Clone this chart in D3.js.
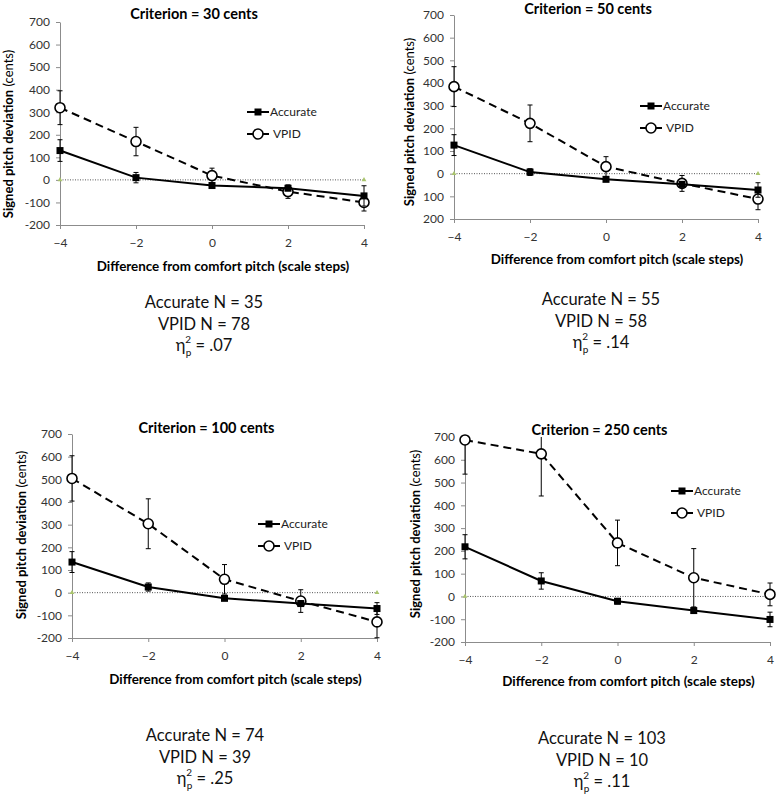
<!DOCTYPE html>
<html>
<head>
<meta charset="utf-8">
<script src="https://cdn.jsdelivr.net/npm/d3@7"></script>
<style>
  body { margin: 0; background: #fff; }
  svg { display: block; font-family: Lato, "Open Sans", sans-serif; }
  .axis path, .axis line { stroke: #8c8c8c; }
  .axis text { fill: #333; font-size: 12px; font-family: Lato, sans-serif; }
</style>
</head>
<body>
<svg id="chart" width="777" height="798"></svg>
<script>
// x positions (scale steps from comfort pitch)
const xSteps = [-4, -2, 0, 2, 4];
const yTicks = [700, 600, 500, 400, 300, 200, 100, 0, -100, -200];
const yTickLabelsStd = ['700', '600', '500', '400', '300', '200', '100', '0', '-100', '-200'];
const yTickLabelsP2 = ['700', '600', '500', '400', '300', '200', '100', '0', '100', '200'];

const panelTitles = ['Criterion = 30 cents', 'Criterion = 50 cents', 'Criterion = 100 cents', 'Criterion = 250 cents'];
const accurateN = [35, 55, 74, 103];
const vpidN = [78, 58, 39, 10];
const etaSq = ['.07', '.14', '.25', '.11'];

// means and error bar half-widths (cents)
const accurateMeans = [
  [130, 10, -25, -37, -71],
  [126, 7, -25, -47, -72],
  [135, 25, -25, -48, -70],
  [218, 68, -21, -62, -101]
];
const accurateErrors = [
  [48, 23, 8, 10, 45],
  [46, 15, 8, 12, 32],
  [46, 18, 8, 12, 26],
  [53, 36, 12, 12, 32]
];
const vpidMeans = [
  [320, 170, 19, -52, -100],
  [384, 222, 31, -43, -112],
  [504, 304, 59, -37, -129],
  [687, 626, 235, 82, 9]
];
const vpidErrors = [
  [75, 63, 33, 30, 38],
  [88, 81, 44, 35, 47],
  [100, 110, 65, 50, 70],
  [150, 185, 100, 128, 50]
];

// pixel layout of each panel (axis box, title spots, legend, footer)
const layout = [
  { x0: 60, x1: 364, yTop: 22, yBot: 225, titleY: 19, yLabX: 9, yLabY: 134, xLabY: 271, legX: 247, legY: 112, footX: 204, footY: 308, labels: yTickLabelsStd },
  { x0: 454, x1: 758, yTop: 15, yBot: 219, titleY: 14, yLabX: 410, yLabY: 122, xLabY: 264, legX: 640, legY: 106, footX: 601, footY: 305, labels: yTickLabelsP2 },
  { x0: 72, x1: 377, yTop: 434, yBot: 638, titleY: 433, yLabX: 22, yLabY: 535, xLabY: 684, legX: 258, legY: 524, footX: 205, footY: 741, labels: yTickLabelsStd },
  { x0: 465, x1: 770, yTop: 437, yBot: 642, titleY: 435, yLabX: 416, yLabY: 534, xLabY: 686, legX: 671, legY: 491, footX: 602, footY: 744, labels: yTickLabelsStd }
];

const svg = d3.select('#chart');

function drawPanel(i) {
  const L = layout[i];
  const g = svg.append('g');
  const x = d3.scaleLinear().domain([-4, 4]).range([L.x0, L.x1]);
  const y = d3.scaleLinear().domain([-200, 700]).range([L.yBot, L.yTop]);
  const clampY = v => y(Math.max(-200, Math.min(700, v)));

  g.append('g').attr('class', 'axis')
    .attr('transform', `translate(0,${L.yBot})`)
    .call(d3.axisBottom(x).tickValues(xSteps).tickSize(4).tickSizeOuter(0).tickPadding(9))
    .selectAll('text').attr('dy', '0.71em');
  g.append('g').attr('class', 'axis')
    .attr('transform', `translate(${L.x0},0)`)
    .call(d3.axisLeft(y).tickValues(yTicks).tickSize(4).tickSizeOuter(0).tickPadding(6)
      .tickFormat((d, k) => L.labels[k]));

  // zero reference line
  g.append('line')
    .attr('x1', x(-4)).attr('x2', x(4)).attr('y1', y(0)).attr('y2', y(0))
    .attr('stroke', '#555').attr('stroke-width', 1).attr('stroke-dasharray', '1,1.5');
  g.selectAll('.zm').data([-4, 4]).enter().append('path')
    .attr('d', d3.symbol(d3.symbolTriangle, 10))
    .attr('transform', d => `translate(${x(d)},${y(0)})`)
    .attr('fill', '#a9c46c');

  const series = [
    { means: vpidMeans[i], errs: vpidErrors[i], dash: '8,5', marker: 'circle' },
    { means: accurateMeans[i], errs: accurateErrors[i], dash: null, marker: 'square' }
  ];

  series.forEach(s => {
    const pts = xSteps.map((xv, k) => ({ x: xv, m: s.means[k], e: s.errs[k] }));
    const line = d3.line().x(d => x(d.x)).y(d => y(d.m));
    g.append('path').datum(pts).attr('d', line)
      .attr('fill', 'none').attr('stroke', '#000').attr('stroke-width', 2)
      .attr('stroke-dasharray', s.dash);
    const eb = g.append('g').attr('stroke', '#000').attr('stroke-width', 1);
    pts.forEach(d => {
      const top = clampY(d.m + d.e), bot = clampY(d.m - d.e);
      eb.append('line').attr('x1', x(d.x)).attr('x2', x(d.x)).attr('y1', top).attr('y2', bot);
      if (d.m + d.e <= 700) eb.append('line').attr('x1', x(d.x) - 2.5).attr('x2', x(d.x) + 2.5).attr('y1', top).attr('y2', top);
      if (d.m - d.e >= -200) eb.append('line').attr('x1', x(d.x) - 2.5).attr('x2', x(d.x) + 2.5).attr('y1', bot).attr('y2', bot);
    });
    if (s.marker === 'circle') {
      g.selectAll(null).data(pts).enter().append('circle')
        .attr('cx', d => x(d.x)).attr('cy', d => y(d.m)).attr('r', 5)
        .attr('fill', '#fff').attr('stroke', '#000').attr('stroke-width', 1.6);
    } else {
      g.selectAll(null).data(pts).enter().append('rect')
        .attr('x', d => x(d.x) - 3.5).attr('y', d => y(d.m) - 3.5)
        .attr('width', 7).attr('height', 7).attr('fill', '#000');
    }
  });

  // legend
  const leg = g.append('g').attr('transform', `translate(${L.legX},${L.legY})`);
  leg.append('line').attr('x1', 0).attr('x2', 22).attr('y1', 0).attr('y2', 0).attr('stroke', '#000').attr('stroke-width', 2);
  leg.append('rect').attr('x', 7.5).attr('y', -3.5).attr('width', 7).attr('height', 7).attr('fill', '#000');
  leg.append('text').attr('x', 23).attr('y', 4).attr('font-size', 12).attr('fill', '#222').text('Accurate');
  leg.append('line').attr('x1', 0).attr('x2', 22).attr('y1', 22).attr('y2', 22).attr('stroke', '#000').attr('stroke-width', 2);
  leg.append('circle').attr('cx', 11).attr('cy', 22).attr('r', 5).attr('fill', '#fff').attr('stroke', '#000').attr('stroke-width', 1.6);
  leg.append('text').attr('x', 26).attr('y', 26).attr('font-size', 12).attr('fill', '#222').text('VPID');

  // titles
  g.append('text').attr('x', (L.x0 + L.x1) / 2 - 18).attr('y', L.titleY)
    .attr('text-anchor', 'middle').attr('font-size', 14.5).attr('font-weight', 'bold').text(panelTitles[i]);
  g.append('text').attr('x', (L.x0 + L.x1) / 2 + 11).attr('y', L.xLabY)
    .attr('text-anchor', 'middle').attr('font-size', 13.4).attr('font-weight', 'bold')
    .text('Difference from comfort pitch (scale steps)');
  const yl = g.append('text').attr('transform', `translate(${L.yLabX + 4},${L.yLabY}) rotate(-90)`)
    .attr('text-anchor', 'middle').attr('font-size', 13);
  yl.append('tspan').attr('font-weight', 'bold').text('Signed pitch deviation');
  yl.append('tspan').text(' (cents)');

  // footer text
  const foot = g.append('g').attr('font-size', 16.5).attr('fill', '#111').attr('text-anchor', 'middle');
  foot.append('text').attr('x', L.footX).attr('y', L.footY).text(`Accurate N = ${accurateN[i]}`);
  foot.append('text').attr('x', L.footX).attr('y', L.footY + 22).text(`VPID N = ${vpidN[i]}`);
  const eta = foot.append('text').attr('x', L.footX).attr('y', L.footY + 43);
  eta.append('tspan').text('η');
  eta.append('tspan').attr('font-size', 10).attr('dy', -8).text('2');
  eta.append('tspan').attr('font-size', 10).attr('dx', -5.5).attr('dy', 13).text('p');
  eta.append('tspan').attr('dy', -5).text(` = ${etaSq[i]}`);
}

[0, 1, 2, 3].forEach(drawPanel);
</script>
</body>
</html>
